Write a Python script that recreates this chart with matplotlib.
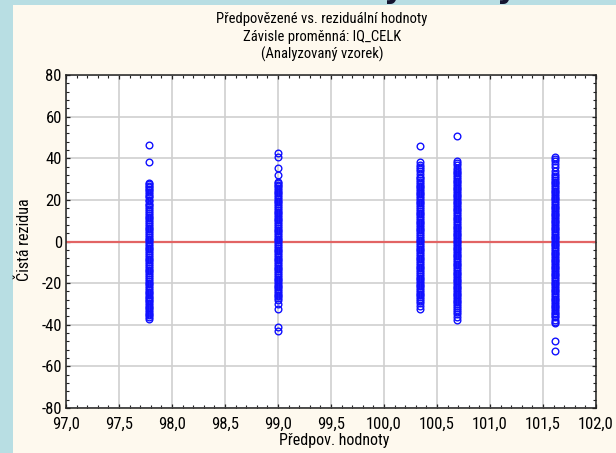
import matplotlib
matplotlib.use("Agg")
import matplotlib.pyplot as plt
from matplotlib.ticker import MultipleLocator, FuncFormatter
from matplotlib.patches import Rectangle
from matplotlib import font_manager

# ---------------- data ----------------
predicted = [97.78, 99.0, 100.34, 100.69, 101.61]

res_c1 = [46.6, 38.4, 28.0, 27.4, 26.8, 26.1, 25.3, 24.6, 23.7, 22.9, 22.0, 21.2, 20.1, 19.3,
          18.2, 17.4, 16.5, 15.6, 14.8, 13.7, 12.9, 12.0, 11.1, 10.2, 9.4, 8.5, 7.6, 6.7, 5.8,
          4.9, 4.1, 3.2, 2.3, 1.4, 0.6, -0.3, -1.2, -2.1, -3.0, -3.8, -4.7, -5.6, -6.5, -7.4,
          -8.2, -9.1, -10.0, -10.9, -11.8, -12.6, -13.5, -14.4, -15.3, -16.2, -17.1, -18.0,
          -18.9, -19.7, -20.6, -21.5, -22.4, -23.2, -24.1, -24.8, -25.6, -26.5, -27.3, -28.1,
          -28.8, -29.6, -30.4, -31.3, -32.0, -32.9, -33.7, -34.6, -35.4, -36.3, -37.2]

res_c2 = [42.4, 40.5, 35.2, 32.0, 28.8, 28.1, 27.3, 26.5, 25.6, 24.8, 23.9, 23.1, 22.2, 21.4,
          20.5, 19.6, 18.8, 17.9, 17.0, 16.2, 15.3, 14.4, 13.6, 12.7, 11.8, 11.0, 10.1, 9.2,
          8.4, 7.5, 6.6, 5.7, 4.9, 4.0, 3.1, 2.3, 1.4, 0.5, -0.4, -1.2, -2.1, -3.0, -3.9, -4.7,
          -5.6, -6.5, -7.3, -8.2, -9.1, -10.0, -10.8, -11.7, -12.6, -13.4, -14.3, -15.2, -16.1,
          -16.9, -17.8, -18.7, -19.5, -20.4, -21.3, -22.1, -23.0, -23.8, -24.7, -25.5, -26.4,
          -27.2, -28.0, -30.0, -32.4, -40.9, -42.8]

res_c3 = [45.8, 38.1, 36.9, 36.0, 34.9, 33.9, 32.6, 31.2, 30.4, 29.5, 28.7, 27.8, 26.9, 26.1,
          25.2, 24.3, 23.5, 22.6, 21.7, 20.9, 20.0, 19.1, 18.3, 17.4, 16.5, 15.7, 14.8, 13.9,
          13.1, 12.2, 11.3, 10.5, 9.6, 8.7, 7.9, 7.0, 6.1, 5.3, 4.4, 3.5, 2.7, 1.8, 0.9, 0.1,
          -0.8, -1.7, -2.5, -3.4, -4.3, -5.1, -6.0, -6.9, -7.7, -8.6, -9.5, -10.3, -11.2, -12.1,
          -12.9, -13.8, -14.7, -15.5, -16.4, -17.3, -18.1, -19.0, -19.9, -20.7, -21.6, -22.5,
          -23.3, -24.2, -25.1, -25.9, -26.8, -27.6, -28.5, -29.7, -31.0, -32.4]

res_c4 = [50.7, 38.7, 37.6, 36.8, 35.2, 34.4, 33.6, 32.7, 31.9, 31.0, 30.2, 29.3, 28.5, 27.6,
          26.8, 25.9, 25.1, 24.2, 23.4, 22.5, 21.7, 20.8, 20.0, 19.1, 18.3, 17.4, 16.6, 15.7,
          14.9, 14.0, 13.2, 12.3, 11.5, 10.6, 9.8, 8.9, 8.1, 7.2, 6.4, 5.5, 4.7, 3.8, 3.0, 2.1,
          1.3, 0.4, -0.4, -1.3, -2.1, -3.0, -3.8, -4.7, -5.5, -6.4, -7.2, -8.1, -8.9, -9.8,
          -10.6, -11.5, -12.3, -13.2, -14.0, -14.9, -15.7, -16.6, -17.4, -18.3, -19.1, -20.0,
          -20.8, -21.7, -22.5, -23.4, -24.2, -25.1, -25.9, -26.8, -27.6, -28.5, -29.3, -30.2,
          -31.0, -31.9, -32.8, -33.7, -35.0, -36.3, -37.7]

res_c5 = [40.7, 39.6, 38.7, 37.2, 35.7, 34.1, 32.5, 31.4, 30.4, 29.6, 28.7, 27.9, 27.0, 26.2,
          25.3, 24.5, 23.6, 22.8, 21.9, 21.1, 20.2, 19.4, 18.5, 17.7, 16.8, 16.0, 15.1, 14.3,
          13.4, 12.6, 11.7, 10.9, 10.0, 9.2, 8.3, 7.5, 6.6, 5.8, 4.9, 4.1, 3.2, 2.4, 1.5, 0.7,
          -0.2, -1.0, -1.9, -2.7, -3.6, -4.4, -5.3, -6.1, -7.0, -7.8, -8.7, -9.5, -10.4, -11.2,
          -12.1, -12.9, -13.8, -14.6, -15.5, -16.3, -17.2, -18.0, -18.9, -19.7, -20.6, -21.4,
          -22.3, -23.1, -24.0, -24.8, -25.7, -26.5, -27.4, -28.2, -29.1, -29.9, -30.8, -31.6,
          -32.5, -33.3, -34.2, -35.0, -35.8, -36.5, -37.7, -38.5, -39.3, -47.6, -52.4]

residuals = [res_c1, res_c2, res_c3, res_c4, res_c5]

title_lines = ["Předpovězené vs. reziduální hodnoty",
               "Závisle proměnná: IQ_CELK",
               "(Analyzovaný vzorek)"]
x_label = "Předpov. hodnoty"
y_label = "Čistá rezidua"

# ---------------- fonts ----------------
ttf = font_manager.fontManager.ttflist
names = {f.name for f in ttf}
narrow = None
for cand in ["Liberation Sans Narrow", "Arial Narrow", "Roboto Condensed",
             "Open Sans Condensed", "DejaVu Sans Condensed"]:
    if cand in names:
        narrow = cand
        break
stretch = "normal"
if narrow is None:
    if any(f.name == "DejaVu Sans" and str(f.stretch) in ("condensed", "semi-condensed")
           for f in ttf):
        narrow = "DejaVu Sans"
        stretch = "condensed"
    else:
        narrow = "Liberation Sans"
plt.rcParams["font.family"] = [narrow, "DejaVu Sans"]
plt.rcParams["font.stretch"] = stretch
plt.rcParams["axes.unicode_minus"] = False

# ---------------- figure ----------------
W, H = 616, 453
fig = plt.figure(figsize=(W / 100, H / 100), dpi=100)
fig.patch.set_facecolor("#FEF9EE")

# light blue slide border (left and top)
fig.patches.append(Rectangle((0, 0), 13 / W, 1, transform=fig.transFigure,
                             facecolor="#B8DEE3", edgecolor="none", zorder=0))
fig.patches.append(Rectangle((0, 1 - 5 / H), 1, 5 / H, transform=fig.transFigure,
                             facecolor="#B8DEE3", edgecolor="none", zorder=0))
for xp in (384, 497):
    fig.text(xp / W, 1 + 2 / H, "y", fontsize=22, color="#151530",
             family="DejaVu Sans", ha="left", va="baseline", fontweight="bold")

ax = fig.add_axes([66 / W, 45 / H, 530 / W, 333 / H])
ax.set_facecolor("white")

for xv, res in zip(predicted, residuals):
    ax.plot([xv] * len(res), res, linestyle="none", marker="o", markersize=4.8,
            markerfacecolor="none", markeredgecolor="#1010FF", markeredgewidth=1.0,
            zorder=3)

ax.axhline(0, color="#E26464", linewidth=1.6, zorder=2)

ax.set_xlim(97.0, 102.0)
ax.set_ylim(-80, 80)
ax.xaxis.set_major_locator(MultipleLocator(0.5))
ax.xaxis.set_minor_locator(MultipleLocator(0.1))
ax.yaxis.set_major_locator(MultipleLocator(20))
ax.yaxis.set_minor_locator(MultipleLocator(4))
ax.xaxis.set_major_formatter(FuncFormatter(lambda v, p: f"{v:.1f}".replace(".", ",")))
ax.yaxis.set_major_formatter(FuncFormatter(lambda v, p: f"{v:.0f}"))

ax.grid(True, which="major", color="#CFCFCF", linewidth=1.2, zorder=1)
ax.set_axisbelow(True)

ax.tick_params(which="both", direction="in", top=True, right=True, colors="#222222")
ax.tick_params(which="major", length=3, width=0.9, labelsize=12, labelcolor="black")
ax.tick_params(axis="x", which="major", pad=6)
ax.tick_params(axis="y", which="major", pad=3)
ax.tick_params(which="minor", length=2.2, width=0.8)
for s in ax.spines.values():
    s.set_color("#222222")
    s.set_linewidth(1.1)

fig.text(24 / W, 1 - 240 / H, y_label, rotation=90, ha="center", va="center", fontsize=11.5)
fig.text(334 / W, 1 - 441 / H, x_label, ha="center", va="center", fontsize=11.5)

for i, line in enumerate(title_lines):
    fig.text(322 / W, 1 - (19 + 17.5 * i) / H, line, ha="center", va="center", fontsize=10.5)

fig.savefig("out.png", dpi=100, facecolor=fig.get_facecolor())
